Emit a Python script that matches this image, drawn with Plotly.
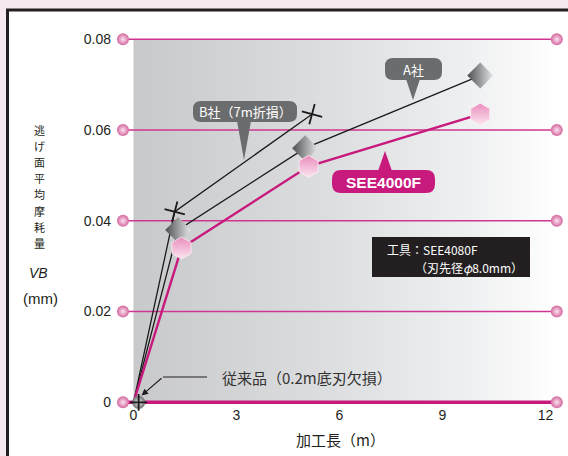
import plotly.graph_objects as go

# ---- data ----
a_x = [0, 1.3, 5.0, 10.1]
a_y = [0, 0.038, 0.056, 0.072]
see_x = [0, 1.4, 5.1, 10.1]
see_y = [0, 0.034, 0.052, 0.0635]
b_x = [0, 1.2, 5.2]
b_y = [0, 0.042, 0.0635]
conv_x = [0.15]
conv_y = [0]
y_ticks = [0, 0.02, 0.04, 0.06, 0.08]
y_ticklabels = ["0", "0.02", "0.04", "0.06", "0.08"]
x_ticks = [0, 3, 6, 9, 12]
x_ticklabels = ["0", "3", "6", "9", "12"]

W, H = 568, 456
L, R, T, B = 116, 2, 20, 51
PW, PH = W - L - R, H - T - B
X0, X1 = -0.5097, 12.5985
Y0, Y1 = -0.000595, 0.084255
GX0, GX1 = -0.306, 12.33

FONT = "Liberation Sans, Arial, Noto Sans CJK JP, sans-serif"
JFONT = "Noto Sans CJK JP, Liberation Sans, sans-serif"
PINK = "#c8197d"
GRID = "#d0368f"


def fx(px):
    return (px - L) / PW


def fy(py):
    return (H - B - py) / PH


def rrect(x0, y0, x1, y1, r):
    rx, ry = r / PW, r / PH
    a, b, c, d = fx(x0), fy(y0), fx(x1), fy(y1)
    return (f"M{a+rx},{b} L{c-rx},{b} Q{c},{b} {c},{b-ry} L{c},{d+ry} Q{c},{d} {c-rx},{d} "
            f"L{a+rx},{d} Q{a},{d} {a},{d+ry} L{a},{b-ry} Q{a},{b} {a+rx},{b} Z")


def tri(p1, p2, p3):
    return f"M{fx(p1[0])},{fy(p1[1])} L{fx(p2[0])},{fy(p2[1])} L{fx(p3[0])},{fy(p3[1])} Z"


fig = go.Figure()

# gradient background of plot region
fig.add_trace(go.Scatter(
    x=[0, GX1, GX1, 0, 0], y=[0, 0, y_ticks[-1], y_ticks[-1], 0],
    mode="lines", line=dict(width=0), fill="toself",
    fillgradient=dict(type="horizontal",
                      colorscale=[[0, "#c8c9cb"], [0.45, "#dcdddf"], [0.8, "#eff0f1"], [1, "#ffffff"]]),
    hoverinfo="skip", showlegend=False))

# horizontal grid lines with sphere ends
for v in y_ticks:
    fig.add_trace(go.Scatter(
        x=[GX0, GX1], y=[v, v], mode="lines+markers",
        line=dict(color=PINK if v == 0 else GRID, width=3.5 if v == 0 else 1.6),
        marker=dict(size=12, color="#d4679f", symbol="circle",
                    gradient=dict(type="radial", color="#fbe4ef"), line=dict(width=0)),
        cliponaxis=False, hoverinfo="skip", showlegend=False))

# series lines
fig.add_trace(go.Scatter(x=b_x, y=b_y, mode="lines", line=dict(color="#1a1a1a", width=1.3),
                         showlegend=False, cliponaxis=False))
fig.add_trace(go.Scatter(x=a_x, y=a_y, mode="lines", line=dict(color="#1a1a1a", width=1.3),
                         showlegend=False, cliponaxis=False))
fig.add_trace(go.Scatter(x=see_x, y=see_y, mode="lines", line=dict(color=PINK, width=2.4),
                         showlegend=False, cliponaxis=False))

# markers
fig.add_trace(go.Scatter(x=a_x[1:], y=a_y[1:], mode="markers",
                         marker=dict(symbol="diamond", size=20, color="#4d4e50",
                                     gradient=dict(type="horizontal", color="#e6e7e8"),
                                     line=dict(width=0)),
                         showlegend=False, cliponaxis=False))
fig.add_trace(go.Scatter(x=see_x[1:], y=see_y[1:], mode="markers",
                         marker=dict(symbol="hexagon", size=22, color="#e98cbc",
                                     gradient=dict(type="vertical", color="#fbe6f0"),
                                     line=dict(width=0.8, color="#fdf0f6")),
                         showlegend=False, cliponaxis=False))
fig.add_trace(go.Scatter(x=b_x[1:], y=b_y[1:], mode="markers",
                         marker=dict(symbol="cross-thin", size=15, angle=15,
                                     line=dict(width=1.8, color="#1a1a1a")),
                         showlegend=False, cliponaxis=False))
fig.add_trace(go.Scatter(x=conv_x, y=conv_y, mode="markers",
                         marker=dict(symbol="circle", size=13, color="#707173",
                                     gradient=dict(type="radial", color="#e8e8e8"),
                                     line=dict(width=0)),
                         showlegend=False, cliponaxis=False))
fig.add_trace(go.Scatter(x=conv_x, y=conv_y, mode="markers",
                         marker=dict(symbol="cross-thin", size=12,
                                     line=dict(width=1.8, color="#1a1a1a")),
                         showlegend=False, cliponaxis=False))

shapes = []
# frame
shapes.append(dict(type="rect", xref="paper", yref="paper", layer="below",
                   x0=fx(7.5), x1=fx(600), y0=fy(10), y1=fy(480),
                   fillcolor="white", line=dict(color="#231f20", width=3)))
# callouts
GRAYC = "#6b6c6e"
shapes.append(dict(type="path", xref="paper", yref="paper", path=rrect(193, 101, 297, 122, 8),
                   fillcolor=GRAYC, line=dict(width=0)))
shapes.append(dict(type="path", xref="paper", yref="paper", path=tri((237, 121), (251, 121), (244, 160)),
                   fillcolor=GRAYC, line=dict(width=0)))
shapes.append(dict(type="path", xref="paper", yref="paper", path=rrect(385, 58, 442, 80, 8),
                   fillcolor=GRAYC, line=dict(width=0)))
shapes.append(dict(type="path", xref="paper", yref="paper", path=tri((406, 79), (420, 79), (413, 100)),
                   fillcolor=GRAYC, line=dict(width=0)))
shapes.append(dict(type="path", xref="paper", yref="paper", path=rrect(332, 170, 435, 193, 9),
                   fillcolor=PINK, line=dict(width=0)))
shapes.append(dict(type="path", xref="paper", yref="paper", path=tri((378, 171), (392, 171), (385, 151)),
                   fillcolor=PINK, line=dict(width=0)))
# tool box
shapes.append(dict(type="rect", xref="paper", yref="paper",
                   x0=fx(372), x1=fx(530), y0=fy(237), y1=fy(277),
                   fillcolor="#231f20", line=dict(width=0)))
# leader line for conventional
shapes.append(dict(type="line", xref="paper", yref="paper",
                   x0=fx(163), x1=fx(207), y0=fy(377), y1=fy(377),
                   line=dict(color="#231f20", width=1.2)))

ann = []


def txt(t, x, y, size=13, color="#231f20", font=JFONT, xanchor="center", **kw):
    ann.append(dict(text=t, x=fx(x), y=fy(y), xref="paper", yref="paper", showarrow=False,
                    xanchor=xanchor, yanchor="middle",
                    font=dict(size=size, color=color, family=font), **kw))


txt("B社（7m折損）", 245, 111.5, size=13, color="white")
txt("A社", 413.5, 69, size=13, color="white")
txt("<b>SEE4000F</b>", 383.5, 182, size=15.5, color="white", font=FONT)
txt("工具：SEE4080F", 385, 249, size=12, color="white", xanchor="left")
txt("（刃先径<i>φ</i>8.0mm）", 413, 267.5, size=12, color="white", xanchor="left")
txt("従来品（0.2m底刃欠損）", 220, 377, size=15, color="#333333", xanchor="left")
txt("加工長（m）", 340, 440, size=15, color="#231f20")

ychars = "逃げ面平均摩耗量"
for i, ch in enumerate(ychars):
    txt(ch, 39, 130 + i * 16.1, size=11, color="#231f20")
txt("<i>VB</i>", 38, 273, size=14, color="#231f20", font=FONT)
txt("(mm)", 40, 298, size=15, color="#231f20", font=FONT)

# arrow
ann.append(dict(text="", x=fx(141.5), y=fy(395.5), xref="paper", yref="paper",
                showarrow=True, arrowhead=2, arrowsize=1.1, arrowwidth=1.2, arrowcolor="#231f20",
                ax=163 - 141.5, ay=377 - 395.5, axref="pixel", ayref="pixel"))

fig.update_layout(
    width=W, height=H, margin=dict(l=L, r=R, t=T, b=B),
    paper_bgcolor="#f6e8f0", plot_bgcolor="rgba(0,0,0,0)",
    shapes=shapes, annotations=ann, showlegend=False,
    font=dict(family=FONT, color="#231f20"),
    xaxis=dict(range=[X0, X1], tickvals=x_ticks, ticktext=x_ticklabels, showgrid=False,
               zeroline=False, showline=False, ticks="", tickfont=dict(size=14, family=FONT),
               ticklabelstandoff=0, fixedrange=True),
    yaxis=dict(range=[Y0, Y1], tickvals=y_ticks, ticktext=y_ticklabels, showgrid=False,
               zeroline=False, showline=False, ticks="", tickfont=dict(size=14, family=FONT),
               ticklabelstandoff=4, fixedrange=True),
)

fig.write_html("out.html", config={"displayModeBar": False})
